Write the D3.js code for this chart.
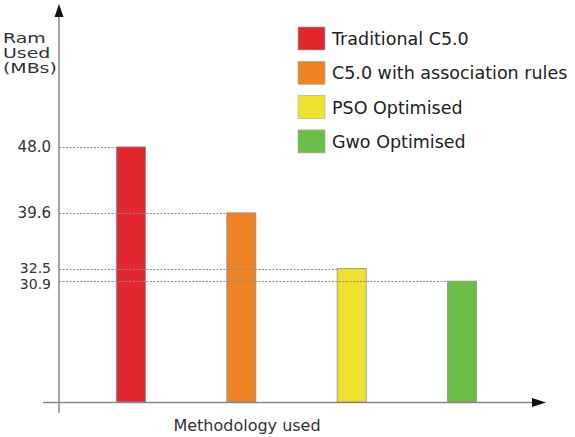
<!DOCTYPE html>
<html>
<head>
<meta charset="utf-8">
<script src="https://cdn.jsdelivr.net/npm/d3@7"></script>
<style>
  html, body { margin: 0; padding: 0; background: #fff; }
  svg { display: block; font-family: "DejaVu Sans", Verdana, sans-serif; }
</style>
</head>
<body>
<svg id="chart" width="575" height="437"></svg>
<script>
const categories = ["Traditional C5.0", "C5.0 with association rules", "PSO Optimised", "Gwo Optimised"];
const ramValues = [48.0, 39.6, 32.5, 30.9];
const tickLabels = ["48.0", "39.6", "32.5", "30.9"];
const barColors = ["#e0282e", "#ee8325", "#ede22f", "#6cbd45"];
const yTitleLines = ["Ram", "Used", "(MBs)"];
const xTitle = "Methodology used";

const svg = d3.select("#chart");

const axisX = 59, axisY = 402;
const y = d3.scaleLinear().domain([15.5, 65.7]).range([axisY, 8]);
const x = d3.scalePoint().domain(categories).range([131, 462]);
const barW = 29;

// bars
svg.append("g").selectAll("rect")
  .data(categories)
  .join("rect")
  .attr("x", d => x(d) - barW / 2)
  .attr("y", (d, i) => y(ramValues[i]))
  .attr("width", barW)
  .attr("height", (d, i) => axisY - y(ramValues[i]))
  .attr("fill", (d, i) => barColors[i])
  .attr("stroke", "#9a8a8a")
  .attr("stroke-width", 0.8);

// dashed reference lines
svg.append("g").selectAll("line")
  .data(categories)
  .join("line")
  .attr("x1", axisX)
  .attr("x2", d => x(d) - barW / 2)
  .attr("y1", (d, i) => Math.round(y(ramValues[i])) + 0.5)
  .attr("y2", (d, i) => Math.round(y(ramValues[i])) + 0.5)
  .attr("stroke", "#8a8a8a")
  .attr("stroke-width", 1)
  .attr("stroke-dasharray", "2,1.5");

// tick labels (the two close labels are nudged apart slightly)
const tickNudge = [0, 0, -1.5, 2];
svg.append("g").selectAll("text")
  .data(tickLabels)
  .join("text")
  .attr("x", 51)
  .attr("y", (d, i) => y(ramValues[i]) + 5.5 + tickNudge[i])
  .attr("text-anchor", "end")
  .attr("font-size", (d, i) => i >= 2 ? 14 : 15)
  .attr("fill", "#333")
  .text(d => d);

// axes
svg.append("line")
  .attr("x1", axisX).attr("x2", axisX)
  .attr("y1", 413).attr("y2", 14)
  .attr("stroke", "#888").attr("stroke-width", 1.5);
svg.append("path")
  .attr("d", `M${axisX},4 L${axisX - 4.5},17 L${axisX + 4.5},17 Z`)
  .attr("fill", "#111");

svg.append("line")
  .attr("x1", 43).attr("x2", 534)
  .attr("y1", axisY + 0.5).attr("y2", axisY + 0.5)
  .attr("stroke", "#888").attr("stroke-width", 1.5);
svg.append("path")
  .attr("d", `M546,${axisY + 0.5} L532,${axisY - 4} L532,${axisY + 5} Z`)
  .attr("fill", "#111");

// y-axis title (horizontally widened as in the reference)
svg.append("g")
  .attr("transform", "translate(3,0) scale(1.4,1)")
  .selectAll("text")
  .data(yTitleLines)
  .join("text")
  .attr("x", 0)
  .attr("y", (d, i) => 43 + i * 15)
  .attr("font-size", 13.5)
  .attr("fill", "#333")
  .text(d => d);

// x-axis title
svg.append("text")
  .attr("x", 247)
  .attr("y", 431)
  .attr("text-anchor", "middle")
  .attr("font-size", 16)
  .attr("fill", "#333")
  .text(xTitle);

// legend
const legend = svg.append("g").selectAll("g")
  .data(categories)
  .join("g")
  .attr("transform", (d, i) => `translate(298, ${27 + i * 34.3})`);
legend.append("rect")
  .attr("width", 27).attr("height", 23)
  .attr("fill", (d, i) => barColors[i])
  .attr("stroke", "#aaa").attr("stroke-width", 0.6);
legend.append("text")
  .attr("x", 34).attr("y", 18)
  .attr("font-size", 17.5)
  .attr("fill", "#222")
  .text(d => d);
</script>
</body>
</html>
